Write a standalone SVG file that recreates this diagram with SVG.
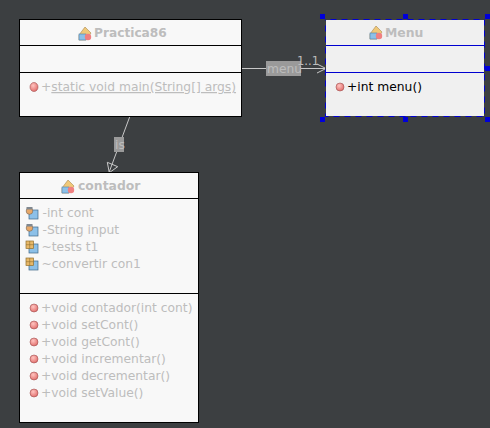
<svg xmlns="http://www.w3.org/2000/svg" width="490" height="428" viewBox="0 0 490 428">
<style>
text{font-family:"DejaVu Sans",sans-serif;font-size:12.3px;fill:#bdbdbd}
.t{font-weight:bold;font-size:12.4px}
.b{fill:#f8f8f8;stroke:#000;stroke-width:1}
.d{stroke:#000;stroke-width:1}
.c{stroke:#c8c8c8;stroke-width:1;fill:none}
.h{fill:#0000d8}
.l{fill:#9a9a9a}
.s{stroke:#0000d0;stroke-width:1}
</style>
<defs>
<radialGradient id="r" cx="0.4" cy="0.35" r="0.7"><stop offset="0" stop-color="#ffc4c0"/><stop offset="1" stop-color="#e06a68"/></radialGradient>
<g id="ci"><path d="M0 8 L6 0 L12 6 L7 13 H0Z" fill="#f0c878" stroke="#a88850" stroke-width=".6"/><rect x="0" y="7" width="7" height="6" fill="#8cc0e8" stroke="#5080a8" stroke-width=".6"/><circle cx="9" cy="10" r="3.200" fill="#f08080"/></g>
<circle id="m" r="4" fill="url(#r)" stroke="#a05050" stroke-width=".6"/>
<g id="f1"><rect x="3" y="3" width="9" height="9" fill="#8cc0e8" stroke="#406888" stroke-width=".7"/><circle cx="3.500" cy="4" r="3.300" fill="#e8a868" stroke="#807060" stroke-width=".7"/><rect x="0.500" y="0" width="6" height="2.500" fill="#808890"/></g>
<g id="f2"><rect x="3" y="3" width="9" height="9" fill="#8cc0e8" stroke="#406888" stroke-width=".7"/><rect x="0" y="0" width="7.500" height="7.500" fill="#e8b868" stroke="#907030" stroke-width=".7"/><path d="M3.700 0V7.500M0 3.700H7.500" stroke="#907030" stroke-width=".6"/></g>
</defs>
<rect width="490" height="428" fill="#3c3f41"/>
<g id="connectors">
<path class="c" d="M241 68.500H326M317 64L326 68.500L317 73"/>
<path class="c" d="M130 116L109 172.500M107.300 162.300L117.700 166.700L109.300 172.700Z"/>
<rect class="l" x="266" y="61" width="35" height="15"/>
<text x="267" y="73">menu</text>
<text x="297" y="65" style="font-size:11.500px">1..1</text>
<rect class="l" x="114" y="137" width="10" height="15"/>
<text x="115" y="149">is</text>
</g>
<g id="Practica86">
<rect class="b" x="19.500" y="19.500" width="222" height="97"/>
<path class="d" d="M19 45.500H242M19 72.500H242"/>
<use href="#ci" x="79" y="27"/>
<text class="t" x="94" y="37" style="font-size:12.200px">Practica86</text>
<ellipse cx="34" cy="87" rx="4" ry="4.500" fill="url(#r)" stroke="#a05050" stroke-width=".6"/>
<text x="41" y="91">+<tspan text-decoration="underline">static void main(String[] args)</tspan></text>
</g>
<g id="Menu">
<rect x="325.500" y="19.500" width="159" height="97" fill="#f0f0f0" stroke="#0000d0" stroke-width="1"/>
<rect x="325.500" y="19.500" width="159" height="97" fill="none" stroke="#3c3f41" stroke-width="1" stroke-dasharray="5 6"/>
<path class="s" d="M326 45.500H484M326 72.500H484"/>
<use href="#ci" x="370" y="26"/>
<text class="t" x="385" y="37">Menu</text>
<use href="#m" x="340" y="87"/>
<text x="347" y="91" style="fill:#000">+int menu()</text>
<rect class="h" x="320" y="14" width="5" height="5"/><rect class="h" x="403" y="14" width="5" height="5"/><rect class="h" x="485" y="14" width="5" height="5"/>
<rect class="h" x="485" y="66" width="5" height="5"/>
<rect class="h" x="320" y="117" width="5" height="5"/><rect class="h" x="403" y="117" width="5" height="5"/><rect class="h" x="485" y="117" width="5" height="5"/>
</g>
<g id="contador">
<rect class="b" x="19.500" y="172.500" width="179" height="250"/>
<path class="d" d="M19 198.500H199M19 293.500H199"/>
<use href="#ci" x="62" y="180"/>
<text class="t" x="78" y="190">contador</text>
<use href="#f1" x="26" y="207"/><text x="42.500" y="217">-int cont</text>
<use href="#f1" x="26" y="224"/><text x="42.500" y="234">-String input</text>
<use href="#f2" x="26" y="241"/><text x="41.500" y="251">~tests t1</text>
<use href="#f2" x="26" y="258"/><text x="41.500" y="268">~convertir con1</text>
<use href="#m" x="34" y="308"/><text x="41" y="312">+void contador(int cont)</text>
<use href="#m" x="34" y="325"/><text x="41" y="329">+void setCont()</text>
<use href="#m" x="34" y="342"/><text x="41" y="346">+void getCont()</text>
<use href="#m" x="34" y="359"/><text x="41" y="363">+void incrementar()</text>
<use href="#m" x="34" y="376"/><text x="41" y="380">+void decrementar()</text>
<use href="#m" x="34" y="393"/><text x="41" y="397">+void setValue()</text>
</g>
</svg>
